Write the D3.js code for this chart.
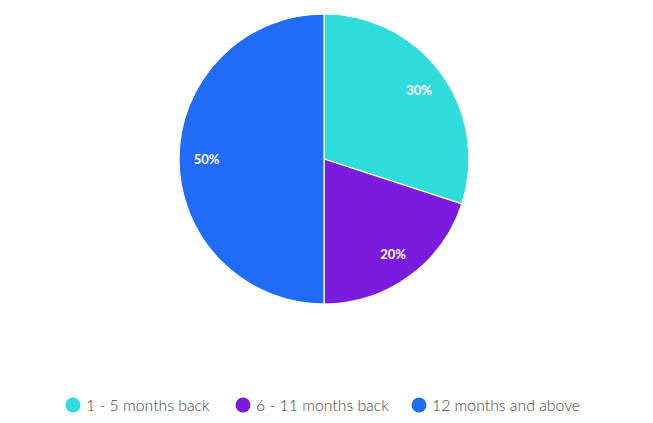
<!DOCTYPE html>
<html><head><meta charset="utf-8">
<script src="https://cdn.jsdelivr.net/npm/d3@7"></script>
<style>body{margin:0;background:#fff;}svg{display:block;}</style>
</head><body>
<svg id="c" width="653" height="423"></svg>
<script>
const categories = ["1 - 5 months back", "6 - 11 months back", "12 months and above"];
const values = [30, 20, 50];
const colors = ["#2EDCDC", "#7A1BDD", "#206CF7"];

const svg = d3.select("#c");
const cx = 324, cy = 159, R = 145;
const g = svg.append("g").attr("transform", `translate(${cx},${cy})`);
const data = categories.map((c, i) => ({c, v: values[i], col: colors[i]}));
const pie = d3.pie().value(d => d.v).sort(null);
const arc = d3.arc().innerRadius(0).outerRadius(R);
const labelArc = d3.arc().innerRadius(R * 0.81).outerRadius(R * 0.81);
const arcs = pie(data);
g.selectAll("path").data(arcs).join("path")
  .attr("d", arc).attr("fill", d => d.data.col)
  .attr("stroke", "#fff").attr("stroke-width", 1.2);
g.selectAll("text").data(arcs).join("text")
  .attr("transform", d => `translate(${labelArc.centroid(d)})`)
  .attr("text-anchor", "middle").attr("dy", "0.35em")
  .attr("fill", "#fff").attr("font-family", "Lato, 'Open Sans', sans-serif")
  .attr("font-weight", "bold").attr("font-size", 13)
  .text(d => d.data.v + "%");

const legX = [73, 243, 419];
const leg = svg.append("g");
data.forEach((d, i) => {
  leg.append("circle").attr("cx", legX[i]).attr("cy", 405).attr("r", 7.5).attr("fill", d.col);
  leg.append("text").attr("x", legX[i] + 13).attr("y", 405).attr("dy", "0.35em")
    .attr("fill", "#444").attr("font-family", "Lato, 'Open Sans', sans-serif")
    .attr("font-weight", 300)
    .attr("font-size", 15.8).text(d.c);
});
</script>
</body></html>
